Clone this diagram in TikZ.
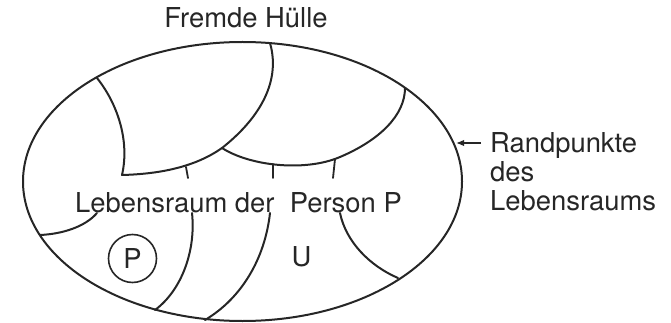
\documentclass[tikz,border=0pt]{standalone}
\usepackage{fontspec}
\setmainfont{TeX Gyre Heros}
\usetikzlibrary{arrows.meta}
\definecolor{ink}{RGB}{38,38,38}
\tikzset{
  wall/.style={draw=ink,line width=2pt,line cap=round,line join=round},
  tick/.style={draw=ink,line width=1.8pt,line cap=round},
  lbl/.style={text=ink,inner sep=0pt,font=\fontsize{27.4}{29}\selectfont},
  pointer/.style={draw=ink,line width=1.4pt,-{Latex[length=8pt,width=6.5pt]}}
}
\begin{document}
\begin{tikzpicture}[x=1pt,y=-1pt]
\useasboundingbox (0,0) rectangle (671,323);
% key points
\coordinate (c) at (242.5,181.5);
\coordinate (a1) at (97,78);
\coordinate (a2) at (122,175);
\coordinate (a3) at (222,148);
\coordinate (a4) at (270,43);
\coordinate (b1) at (340,157);
\coordinate (b2) at (405,88);
\coordinate (t1a) at (186,167); \coordinate (t1b) at (188,178);
\coordinate (t2a) at (273,164); \coordinate (t2b) at (273,178);
\coordinate (t3a) at (335,159); \coordinate (t3b) at (333,178);
\coordinate (f1) at (97,213); \coordinate (f2) at (40,235);
\coordinate (c1) at (192,213); \coordinate (c2) at (155,310);
\coordinate (d1) at (270,213); \coordinate (d2) at (205,320);
\coordinate (e1) at (340,213); \coordinate (e2) at (398,278);
\coordinate (arrtail) at (481,143); \coordinate (arrtip) at (456,143);
% outer boundary
\draw[wall] (c) ellipse [x radius=219.5, y radius=139.5];
% upper regions
\draw[wall] (a1) .. controls (117,103) and (130,140) .. (a2)
  .. controls (160,174) and (195,167) .. (a3)
  .. controls (255,122) and (282,85) .. (a4);
\draw[wall] (a3) .. controls (250,166) and (305,172) .. (b1)
  .. controls (380,140) and (405,115) .. (b2);
% ticks
\draw[tick] (t1a) -- (t1b);
\draw[tick] (t2a) -- (t2b);
\draw[tick] (t3a) -- (t3b);
% lower regions
\draw[wall] (f1) .. controls (85,227) and (62,234) .. (f2);
\draw[wall] (c1) .. controls (196,250) and (182,290) .. (c2);
\draw[wall] (d1) .. controls (265,258) and (242,298) .. (d2);
\draw[wall] (e1) .. controls (346,242) and (370,266) .. (e2);
% person
\node[wall,circle,minimum size=48pt,inner sep=0pt,line width=1.6pt] (pcirc) at (132.5,258.5) {};
\node[lbl] (plbl) at (pcirc.center) {P};
\node[lbl] (u) at (301.5,257) {U};
% texts
\node[lbl,anchor=base] (fremd) at (246,28) {Fremde Hülle};
\node[lbl,anchor=base west] (lr) at (75,212) {Lebensraum der\hspace{0.556em}Person P};
\node[lbl,anchor=base west] (rp1) at (490,153) {Randpunkte};
\node[lbl,anchor=base west] (rp2) at (490,182) {des};
\node[lbl,anchor=base west] (rp3) at (490,210) {Lebensraums};
\draw[pointer] (arrtail) -- (arrtip);
\end{tikzpicture}
\end{document}
